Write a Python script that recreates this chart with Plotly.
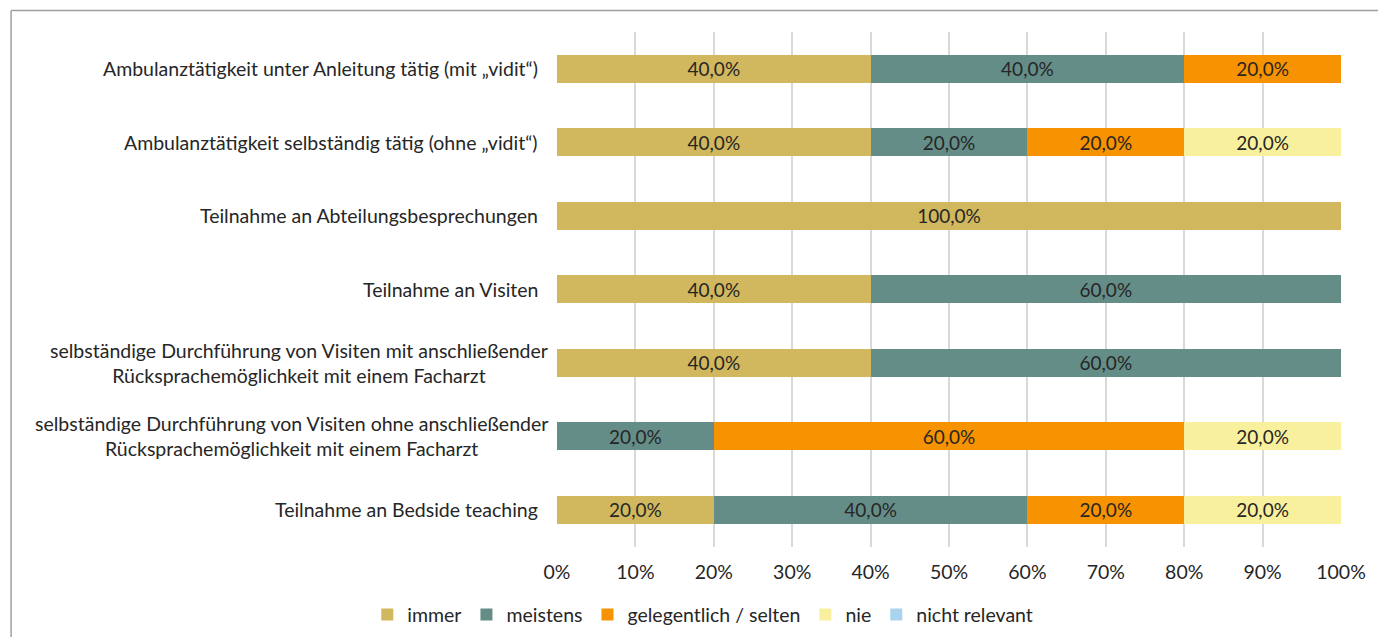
import plotly.graph_objects as go

# Activities, listed top to bottom
categories = [
    "Ambulanztätigkeit unter Anleitung tätig (mit „vidit“)",
    "Ambulanztätigkeit selbständig tätig (ohne „vidit“)",
    "Teilnahme an Abteilungsbesprechungen",
    "Teilnahme an Visiten",
    "selbständige Durchführung von Visiten mit anschließender<br>Rücksprachemöglichkeit mit einem Facharzt",
    "selbständige Durchführung von Visiten ohne anschließender<br>Rücksprachemöglichkeit mit einem Facharzt",
    "Teilnahme an Bedside teaching",
]

# Share of answers per category (percent)
immer = [40, 40, 100, 40, 40, 0, 20]
meistens = [40, 20, 0, 60, 60, 20, 40]
gelegentlich = [20, 20, 0, 0, 0, 60, 20]
nie = [0, 20, 0, 0, 0, 20, 20]
nicht_relevant = [0, 0, 0, 0, 0, 0, 0]

series = [
    ("immer", immer, "#D1B85E"),
    ("meistens", meistens, "#648D88"),
    ("gelegentlich / selten", gelegentlich, "#F79200"),
    ("nie", nie, "#F9F09D"),
    ("nicht relevant", nicht_relevant, "#A9D3EE"),
]

x_ticks = list(range(0, 101, 10))

FONT = "Lato"
FS = 19.5
TEXT = "#262626"

fig = go.Figure()
for name, vals, color in series:
    fig.add_trace(go.Bar(
        name=name,
        y=categories,
        x=vals,
        orientation="h",
        marker=dict(color=color, line=dict(width=0)),
        text=[f"{v:.1f}".replace(".", ",") + "%" if v > 0 else "" for v in vals],
        textposition="inside",
        insidetextanchor="middle",
        textfont=dict(family=FONT, size=FS - 0.5, color=TEXT),
        constraintext="none",
        hoverinfo="skip",
    ))

# Category labels as centered multi-line annotations left of the axis
for cat in categories:
    fig.add_annotation(
        x=0, xref="paper", xanchor="right",
        xshift=-7 if "<br>" in cat else -17,
        y=cat, yref="y", yanchor="middle",
        text=cat, showarrow=False, align="center",
        font=dict(family=FONT, size=FS, color=TEXT),
    )

# Outer chart frame (top and left edges)
fig.add_shape(type="line", xref="paper", yref="paper",
              x0=-0.6963, x1=1.06, y0=1.0417, y1=1.0417,
              line=dict(color="#A0A0A0", width=1.5))
fig.add_shape(type="line", xref="paper", yref="paper",
              x0=-0.6963, x1=-0.6963, y0=1.0417, y1=-0.18,
              line=dict(color="#A0A0A0", width=1.5))

fig.update_layout(
    barmode="stack",
    bargap=0.62,
    width=1378, height=637,
    margin=dict(l=557, r=33, t=32, b=90),
    paper_bgcolor="white",
    plot_bgcolor="white",
    font=dict(family=FONT, size=FS, color=TEXT),
    showlegend=True,
    legend=dict(
        orientation="h",
        xref="container", yref="container",
        x=0.51, xanchor="center",
        y=0.035, yanchor="middle",
        font=dict(family=FONT, size=FS, color=TEXT),
        itemsizing="constant",
        itemwidth=30,
        traceorder="normal",
    ),
    xaxis=dict(
        range=[0, 100],
        tickvals=x_ticks,
        ticktext=[f"{t}%" for t in x_ticks],
        showgrid=True, gridcolor="#D9D9D9", gridwidth=2,
        zeroline=False, showline=False,
        ticks="", ticklabelstandoff=12,
        tickfont=dict(family=FONT, size=FS, color=TEXT),
        fixedrange=True,
    ),
    yaxis=dict(
        categoryorder="array",
        categoryarray=categories[::-1],
        showticklabels=False,
        showgrid=False, zeroline=False, showline=False,
        ticks="",
        fixedrange=True,
    ),
)

fig.write_html("out.html")
